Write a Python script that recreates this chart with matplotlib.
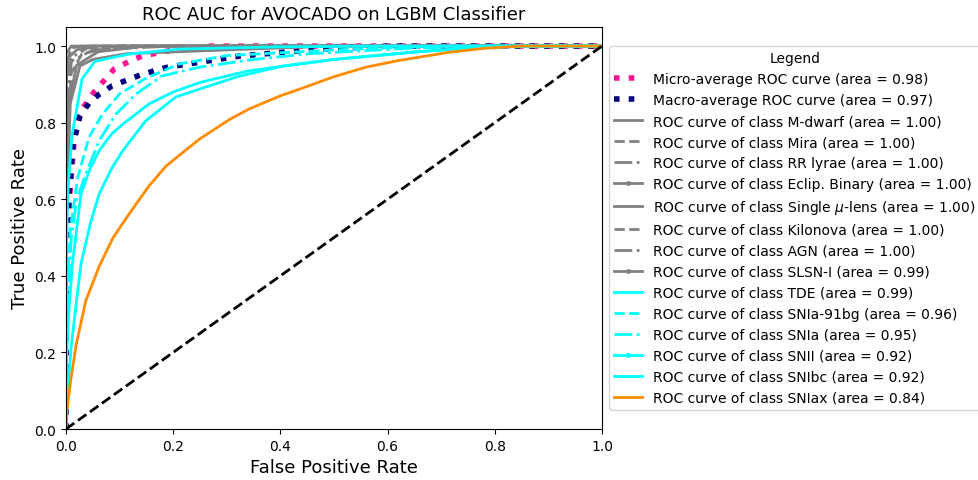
import matplotlib
matplotlib.use("Agg")
import matplotlib.pyplot as plt

# ROC curves (fpr, tpr)
micro_fpr = [0, 0, 0.003, 0.0075, 0.017, 0.03, 0.054, 0.09, 0.118, 0.142, 0.2, 0.27, 1]
micro_tpr = [0, 0.35, 0.5, 0.62, 0.783, 0.835, 0.883, 0.94, 0.96, 0.974, 0.99, 1.0, 1]
macro_fpr = [0, 0, 0.005, 0.013, 0.026, 0.045, 0.063, 0.086, 0.11, 0.138, 0.164, 0.19,
             0.325, 0.455, 0.6, 1]
macro_tpr = [0, 0.4, 0.6, 0.74, 0.817, 0.855, 0.875, 0.896, 0.909, 0.924, 0.935, 0.945,
             0.974, 0.99, 1.0, 1]

class_names = ["M-dwarf", "Mira", "RR lyrae", "Eclip. Binary", "Single $\\mu$-lens",
               "Kilonova", "AGN", "SLSN-I", "TDE", "SNIa-91bg", "SNIa", "SNII",
               "SNIbc", "SNIax"]
class_auc = [1.00, 1.00, 1.00, 1.00, 1.00, 1.00, 1.00, 0.99, 0.99, 0.96, 0.95, 0.92, 0.92, 0.84]
class_fpr = [
    [0, 0, 0.005, 0.02, 0.05, 1],
    [0, 0, 0.01, 0.03, 1],
    [0, 0, 0.01, 0.04, 0.1, 1],
    [0, 0, 0.005, 0.02, 0.06, 0.15, 1],
    [0, 0, 0.01, 1],
    [0, 0, 0.01, 0.03, 0.1, 1],
    [0, 0, 0.01, 0.05, 0.2, 1],
    [0, 0, 0.008, 0.026, 0.05, 0.113, 0.3, 0.5, 1],
    [0, 0, 0.003, 0.011, 0.03, 0.054, 0.118, 0.21, 0.4, 0.6, 1],
    [0, 0, 0.008, 0.022, 0.043, 0.068, 0.1, 0.147, 0.21, 0.3, 0.5, 0.7, 1],
    [0, 0, 0.01, 0.02, 0.037, 0.062, 0.093, 0.131, 0.179, 0.25, 0.35, 0.455, 0.65, 0.8, 1],
    [0, 0, 0.004, 0.012, 0.028, 0.045, 0.062, 0.085, 0.106, 0.155, 0.2, 0.25, 0.34, 0.5,
     0.7, 0.85, 1],
    [0, 0.003, 0.01, 0.028, 0.045, 0.062, 0.085, 0.106, 0.149, 0.205, 0.25, 0.32, 0.405,
     0.5, 0.65, 0.8, 0.9, 1],
    [0, 0.002, 0.008, 0.019, 0.037, 0.062, 0.088, 0.124, 0.155, 0.187, 0.249, 0.306, 0.342,
     0.4, 0.437, 0.5, 0.56, 0.62, 0.716, 0.78, 0.85, 1],
]
class_tpr = [
    [0, 0.9, 0.97, 0.99, 1.0, 1],
    [0, 0.95, 0.995, 1.0, 1],
    [0, 0.85, 0.97, 0.995, 1.0, 1],
    [0, 0.6, 0.85, 0.95, 0.985, 1.0, 1],
    [0, 0.98, 1.0, 1],
    [0, 0.7, 0.93, 0.98, 1.0, 1],
    [0, 0.8, 0.96, 0.99, 1.0, 1],
    [0, 0.5, 0.85, 0.948, 0.965, 0.98, 0.99, 1.0, 1],
    [0, 0.4, 0.61, 0.765, 0.914, 0.96, 0.979, 0.992, 0.998, 1.0, 1],
    [0, 0.3, 0.52, 0.657, 0.762, 0.822, 0.875, 0.914, 0.953, 0.975, 0.99, 1.0, 1],
    [0, 0.25, 0.5, 0.6, 0.666, 0.753, 0.822, 0.875, 0.922, 0.945, 0.965, 0.98, 0.995, 1.0, 1],
    [0, 0.15, 0.28, 0.431, 0.614, 0.68, 0.727, 0.77, 0.796, 0.849, 0.88, 0.905, 0.935, 0.965,
     0.99, 1.0, 1],
    [0, 0.1, 0.22, 0.431, 0.535, 0.614, 0.68, 0.727, 0.805, 0.867, 0.888, 0.92, 0.948,
     0.965, 0.985, 0.997, 1.0, 1],
    [0, 0.05, 0.12, 0.22, 0.335, 0.425, 0.50, 0.574, 0.635, 0.687, 0.757, 0.809, 0.836,
     0.87, 0.888, 0.92, 0.945, 0.962, 0.984, 0.994, 1.0, 1],
]
class_colors = ["grey"] * 8 + ["cyan"] * 5 + ["darkorange"]
class_styles = ["-", "--", "-.", ".-"] * 2 + ["-", "--", "-.", ".-", "-"] + ["-"]

fig = plt.figure(figsize=(9.79, 4.81), dpi=100)
ax = fig.add_axes([0.0674, 0.106, 0.5475, 0.836])

ax.plot(micro_fpr, micro_tpr, color="deeppink", linestyle=":", linewidth=4,
        label="Micro-average ROC curve (area = 0.98)")
ax.plot(macro_fpr, macro_tpr, color="navy", linestyle=":", linewidth=4,
        label="Macro-average ROC curve (area = 0.97)")

for i, name in enumerate(class_names):
    # dense curves in the original hide the dot markers, so only mark the end point
    ax.plot(class_fpr[i], class_tpr[i], class_styles[i], color=class_colors[i], lw=2,
            markersize=5, markevery=[-1],
            label="ROC curve of class {0} (area = {1:0.2f})".format(name, class_auc[i]))

ax.plot([0, 1], [0, 1], "k--", lw=2)
ax.set_xlim(0.0, 1.0)
ax.set_ylim(0.0, 1.05)
ax.set_xlabel("False Positive Rate", fontsize=13)
ax.set_ylabel("True Positive Rate", fontsize=13)
ax.set_title("ROC AUC for AVOCADO on LGBM Classifier", fontsize=13)
ax.legend(loc="center left", bbox_to_anchor=(1, 0.5), title="Legend", fontsize=10)

fig.savefig("out.png", dpi=100)
